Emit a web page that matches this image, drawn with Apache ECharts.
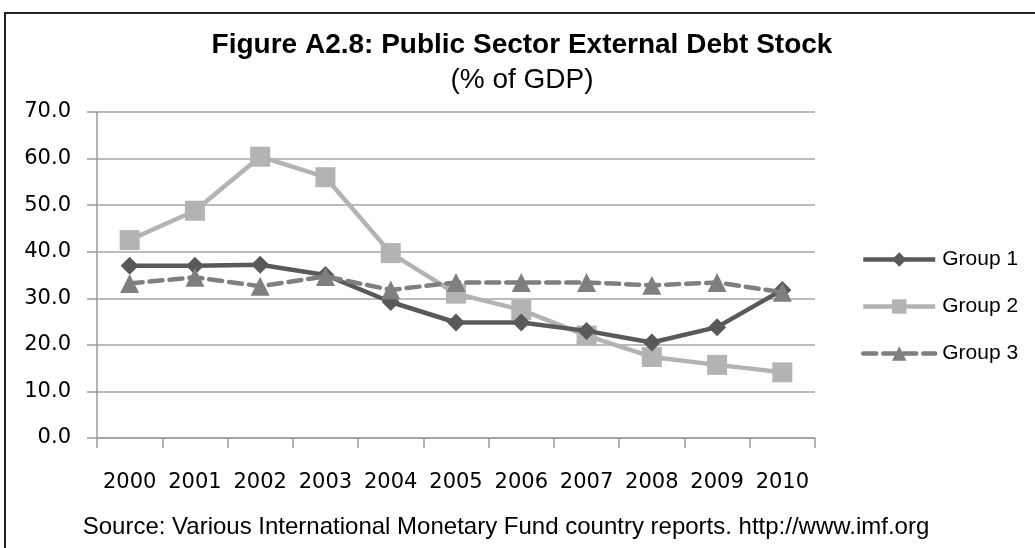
<!DOCTYPE html>
<html>
<head>
<meta charset="utf-8">
<script src="https://cdn.jsdelivr.net/npm/echarts@6/dist/echarts.min.js"></script>
<style>
html,body{margin:0;padding:0;background:#fff;}
#chart{width:1035px;height:548px;}
</style>
</head>
<body>
<div id="chart"></div>
<script>
const years = ['2000','2001','2002','2003','2004','2005','2006','2007','2008','2009','2010'];
const group1 = [37.0, 37.0, 37.2, 35.0, 29.2, 24.8, 24.8, 23.0, 20.5, 23.8, 31.8];
const group2 = [42.5, 48.8, 60.4, 56.0, 39.7, 31.0, 27.5, 22.0, 17.4, 15.7, 14.1];
const group3 = [33.2, 34.5, 32.6, 34.7, 31.8, 33.4, 33.4, 33.4, 32.8, 33.4, 31.3];
const yTicks = [0, 10, 20, 30, 40, 50, 60, 70];
const titleText = 'Figure A2.8: Public Sector External Debt Stock';
const subtitleText = '(% of GDP)';
const sourceText = 'Source: Various International Monetary Fund country reports. http://www.imf.org';

const sansFont = '"Liberation Sans", Arial, sans-serif';
const chart = echarts.init(document.getElementById('chart'), null, {renderer: 'canvas'});
chart.setOption({
  animation: false,
  backgroundColor: '#fff',
  graphic: [
    {type: 'rect', shape: {x: 5, y: 13, width: 1200, height: 700},
     style: {fill: 'none', stroke: '#222', lineWidth: 2}, silent: true},
    {type: 'text', style: {text: titleText, font: 'bold 28px ' + sansFont, fill: '#000',
      x: 522, y: 45, align: 'center', verticalAlign: 'middle'}},
    {type: 'text', style: {text: subtitleText, font: '28px ' + sansFont, fill: '#000',
      x: 522, y: 80, align: 'center', verticalAlign: 'middle'}},
    {type: 'text', style: {text: sourceText, font: '24px ' + sansFont, fill: '#000',
      x: 506, y: 527, align: 'center', verticalAlign: 'middle'}}
  ],
  legend: {
    orient: 'vertical', left: 856, top: 244,
    itemWidth: 72, itemHeight: 18, itemGap: 26,
    lineStyle: {width: 4.5},
    textStyle: {fontFamily: sansFont, fontSize: 21, color: '#000', padding: [0,0,0,2]},
    data: ['Group 1', 'Group 2', 'Group 3']
  },
  grid: {left: 97, right: 220, top: 112, bottom: 110, containLabel: false},
  xAxis: {
    type: 'category', data: years, boundaryGap: true,
    axisLine: {lineStyle: {color: '#9a9a9a', width: 1.5}},
    axisTick: {show: true, length: 10, interval: 0, lineStyle: {color: '#9a9a9a', width: 1.5}},
    axisLabel: {interval: 0, margin: 34, fontFamily: '"DejaVu Sans", Verdana, sans-serif', fontSize: 21, color: '#000'},
    splitLine: {show: false}
  },
  yAxis: {
    type: 'value', min: yTicks[0], max: yTicks[yTicks.length-1], interval: 10,
    axisLine: {show: true, lineStyle: {color: '#9a9a9a', width: 1.5}},
    axisTick: {show: true, length: 10, lineStyle: {color: '#9a9a9a', width: 1.5}},
    axisLabel: {margin: 26, fontFamily: '"DejaVu Sans", Verdana, sans-serif', fontSize: 21, color: '#000',
      formatter: v => v.toFixed(1)},
    splitLine: {show: true, lineStyle: {color: '#a6a6a6', width: 1.5}}
  },
  series: [
    {name: 'Group 1', type: 'line', data: group1, symbol: 'diamond', symbolSize: 18,
     lineStyle: {color: '#595959', width: 4.5}, itemStyle: {color: '#595959'}, z: 3},
    {name: 'Group 2', type: 'line', data: group2, symbol: 'rect', symbolSize: 20,
     lineStyle: {color: '#b3b3b3', width: 4.5}, itemStyle: {color: '#b3b3b3'}, z: 2},
    {name: 'Group 3', type: 'line', data: group3, symbol: 'triangle', symbolSize: 19,
     lineStyle: {color: '#7f7f7f', width: 4.5, type: [13, 7], cap: 'round'}, itemStyle: {color: '#7f7f7f'}, z: 4}
  ]
});
</script>
</body>
</html>
